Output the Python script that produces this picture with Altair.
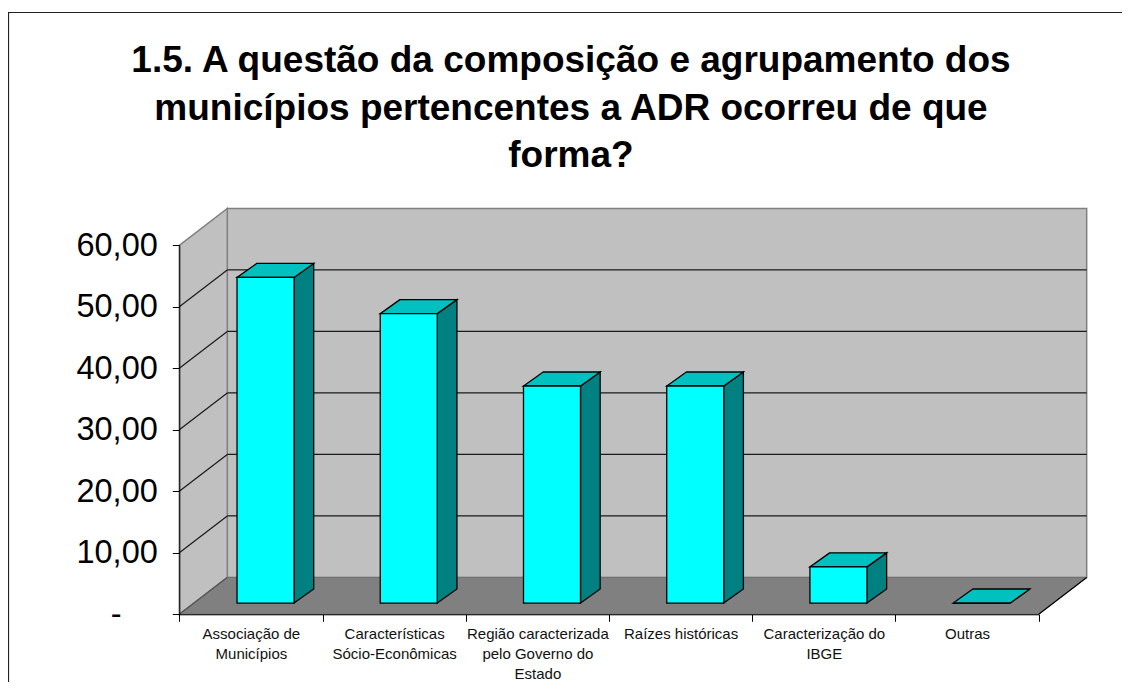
import altair as alt
import pandas as pd

title_lines = ["1.5. A questão da composição e agrupamento dos",
               "municípios pertencentes a ADR ocorreu de que",
               "forma?"]
categories = ["Associação de\nMunicípios", "Características\nSócio-Econômicas",
              "Região caracterizada\npelo Governo do\nEstado", "Raízes históricas",
              "Caracterização do\nIBGE", "Outras"]
values = [52.94, 47.06, 35.29, 35.29, 5.88, 0.0]
y_ticks = [0, 10, 20, 30, 40, 50, 60]

W, H = 1114, 674
DX, DY = 0.335, 6.0
D0 = 0.305
BD_X, BD_Y = 0.41, 0.38
BAR_L, BAR_W = 0.403, 0.398
N = len(categories)

xs = alt.Scale(domain=[0, 6], range=[171.3, 1030.7], nice=False, zero=False)
ys = alt.Scale(domain=[0, 60], range=[606.3, 237.3], nice=False, zero=False)

labels_js = "[" + ",".join("'" + c.replace("\n", "|") + "'" for c in categories) + "]"
xaxis = alt.Axis(values=list(range(N + 1)), offset=-(H - 606.3), orient="bottom", grid=False, title=None,
                 domainColor="#000000", tickColor="#000000", tickSize=7, tickWidth=1,
                 labelExpr="datum.value < 6 ? split(%s[datum.value], '|') : ''" % labels_js,
                 labelFontSize=15, labelFont="Liberation Sans", labelColor="#111111",
                 labelOffset=71.6, labelPadding=5, labelLineHeight=20, labelBound=False,
                 labelFlush=False, labelOverlap=False, labelAngle=0, labelBaseline="top", zindex=1)
yaxis = alt.Axis(values=y_ticks, offset=-171.3, orient="left", grid=False, title=None,
                 domainColor="#000000", tickColor="#000000", tickSize=7, tickWidth=1,
                 labelExpr="datum.value == 0 ? '-\u00a0\u00a0\u00a0\u00a0\u200b' : replace(format(datum.value, '.2f'), '.', ',')",
                 labelFontSize=32.5, labelFont="Liberation Sans", labelColor="#000000",
                 labelPadding=15, labelFlush=False, labelBound=False, labelOverlap=False, zindex=1)

def X(f="x"):
    return alt.X(f + ":Q", scale=xs, axis=xaxis)
def Y(f="y"):
    return alt.Y(f + ":Q", scale=ys, axis=yaxis)
X2 = lambda f="x2": alt.X2(f)
Y2 = lambda f="y2": alt.Y2(f)

frame = alt.Chart(pd.DataFrame({"a": [0]})).mark_rect(
    fill="white", stroke="#222222", strokeWidth=1.2
).encode(x=alt.value(0.5), x2=alt.value(W + 50), y=alt.value(4.5), y2=alt.value(H + 50))

left_wall = alt.Chart(pd.DataFrame({"x": [0, DX], "y": [0, DY], "y2": [60, 60 + DY]})).mark_area(
    orient="vertical", fill="#C0C0C0", stroke="#808080", strokeWidth=1.5
).encode(x=X(), y=Y(), y2=Y2())
back_wall = alt.Chart(pd.DataFrame({"x": [DX], "x2": [6 + DX], "y": [DY], "y2": [60 + DY]})).mark_rect(
    fill="#C0C0C0", stroke="#808080", strokeWidth=1.5
).encode(x=X(), x2=X2(), y=Y(), y2=Y2())
floor = alt.Chart(pd.DataFrame({"y": [0, DY], "x": [0, DX], "x2": [6, 6 + DX]})).mark_area(
    orient="horizontal", fill="#808080", stroke="#6e6e6e", strokeWidth=1
).encode(x=X(), x2=X2(), y=Y())

grid_rows = []
for t in y_ticks[1:-1]:
    grid_rows.append({"x": 0, "x2": DX, "y": t, "y2": t + DY})
    grid_rows.append({"x": DX, "x2": 6 + DX, "y": t + DY, "y2": t + DY})
grid = alt.Chart(pd.DataFrame(grid_rows)).mark_rule(color="#1a1a1a", strokeWidth=1.2).encode(
    x=X(), x2=X2(), y=Y(), y2=Y2())
edge_left = alt.Chart(pd.DataFrame({"x": [0], "x2": [DX], "y": [0], "y2": [DY]})).mark_rule(
    color="#555555", strokeWidth=1.2).encode(x=X(), x2=X2(), y=Y(), y2=Y2())
edge_right = alt.Chart(pd.DataFrame({"x": [6], "x2": [6 + DX], "y": [0], "y2": [DY]})).mark_rule(
    color="#000000", strokeWidth=1.2).encode(x=X(), x2=X2(), y=Y(), y2=Y2())

shift_x = BD_X * DX
d0y = D0 * DY
d1y = (D0 + BD_Y) * DY
front, side, top = [], [], []
for i, v in enumerate(values):
    left = i + BAR_L
    right = left + BAR_W
    front.append({"x": left, "x2": right, "y": d0y, "y2": v + d0y})
    side.append({"b": i, "x": right, "y": d0y, "y2": v + d0y})
    side.append({"b": i, "x": right + shift_x, "y": d1y, "y2": v + d1y})
    top.append({"b": i, "y": v + d0y, "x": left, "x2": right})
    top.append({"b": i, "y": v + d1y, "x": left + shift_x, "x2": right + shift_x})

bar_stroke = dict(stroke="#000000", strokeWidth=1.3)
bar_side = alt.Chart(pd.DataFrame(side)).mark_area(orient="vertical", fill="#008080", **bar_stroke).encode(
    x=X(), y=Y(), y2=Y2(), detail="b:N")
bar_top = alt.Chart(pd.DataFrame(top)).mark_area(orient="horizontal", fill="#00C0C0", **bar_stroke).encode(
    y=Y(), x=X(), x2=X2(), detail="b:N")
bar_front = alt.Chart(pd.DataFrame(front)).mark_rect(fill="#00FFFF", **bar_stroke).encode(
    x=X(), x2=X2(), y=Y(), y2=Y2())

chart = alt.layer(
    frame, back_wall, left_wall, floor, grid, edge_left, edge_right, bar_side, bar_top, bar_front
).properties(
    width=W, height=H, padding=0,
    autosize=alt.AutoSizeParams(type="none"),
    title=alt.TitleParams(text=title_lines, font="Liberation Sans", fontSize=37, fontWeight="bold",
                          color="#000000", lineHeight=47.5, anchor="middle", dx=6, dy=171),
).configure_view(stroke=None)

chart.save("out.html", embed_options={"renderer": "svg", "actions": False})
